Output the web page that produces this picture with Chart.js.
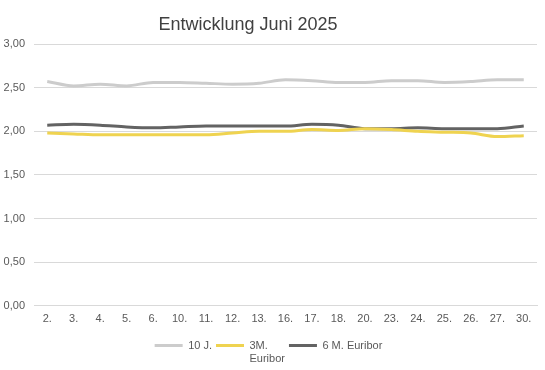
<!DOCTYPE html>
<html>
<head>
<meta charset="utf-8">
<script src="https://cdn.jsdelivr.net/npm/chart.js@4/dist/chart.umd.min.js"></script>
<style>
  html, body { margin: 0; padding: 0; background: #fff; }
  #wrap { width: 545px; height: 370px; }
</style>
</head>
<body>
<div id="wrap"><canvas id="rateChart" width="545" height="370"></canvas></div>
<script>
// Tage im Juni 2025
const days = ["2.", "3.", "4.", "5.", "6.", "10.", "11.", "12.", "13.", "16.", "17.", "18.", "20.", "23.", "24.", "25.", "26.", "27.", "30."];

// Zinssätze in %
const tenYears = [2.57, 2.52, 2.54, 2.52, 2.56, 2.56, 2.55, 2.54, 2.55, 2.59, 2.58, 2.56, 2.56, 2.58, 2.58, 2.56, 2.57, 2.59, 2.59];
const euribor3M = [1.98, 1.97, 1.96, 1.96, 1.96, 1.96, 1.96, 1.98, 2.00, 2.00, 2.02, 2.01, 2.03, 2.02, 2.00, 1.99, 1.98, 1.94, 1.95];
const euribor6M = [2.07, 2.08, 2.07, 2.05, 2.04, 2.05, 2.06, 2.06, 2.06, 2.06, 2.08, 2.07, 2.03, 2.03, 2.04, 2.03, 2.03, 2.03, 2.06];

const seriesNames = ["10 J.", ["3M.", "Euribor"], "6 M. Euribor"];
const yTicks = [0, 0.5, 1, 1.5, 2, 2.5, 3];

const textGray = "#595959";
const fontFamily = "'Liberation Sans', Arial, sans-serif";

// title drawn above the plot (Excel puts it a bit left of center)
const titlePlugin = {
  id: "excelTitle",
  afterDraw(chart) {
    const c = chart.ctx;
    c.save();
    c.font = "18px " + fontFamily;
    c.fillStyle = "#404040";
    c.textAlign = "center";
    c.textBaseline = "middle";
    c.fillText("Entwicklung Juni 2025", 248, 25);
    c.restore();
  }
};

// legend box gets room for the wrapped 2nd line ("Euribor"), otherwise it is clipped
const legendRoom = {
  id: "legendRoom",
  beforeLayout(chart) {
    const lg = chart.legend;
    if (!lg || lg._patched) return;
    const fit = lg.fit;
    lg.fit = function () {
      fit.call(this);
      this.height += 9;
    };
    lg._patched = true;
  }
};

// legend text may be 2 lines; measure it by its widest line
function legendText(label) {
  if (!Array.isArray(label)) return label;
  const lines = label.slice();
  const widest = lines.reduce((a, b) => (b.length > a.length ? b : a));
  lines.toString = () => widest;
  return lines;
}

const ctx = document.getElementById("rateChart");

new Chart(ctx, {
  type: "line",
  data: {
    labels: days,
    datasets: [
      { label: seriesNames[0], data: tenYears, borderColor: "#cccccc", backgroundColor: "#cccccc" },
      { label: seriesNames[1], data: euribor3M, borderColor: "#efd350", backgroundColor: "#efd350" },
      { label: seriesNames[2], data: euribor6M, borderColor: "#636363", backgroundColor: "#636363" }
    ]
  },
  options: {
    responsive: false,
    animation: false,
    layout: { padding: { top: 44, right: 8, left: 0, bottom: 0 } },
    elements: {
      line: { borderWidth: 3, tension: 0.35, cubicInterpolationMode: "monotone" },
      point: { radius: 0 }
    },
    scales: {
      x: {
        offset: true,
        grid: { display: false, drawTicks: false },
        border: { color: "#d9d9d9" },
        afterFit(scale) { scale.height += 3; },
        ticks: { color: textGray, font: { family: fontFamily, size: 11 }, padding: 7, maxRotation: 0, autoSkip: false }
      },
      y: {
        min: 0,
        max: 3,
        afterBuildTicks(scale) { scale.ticks = yTicks.map(v => ({ value: v })); },
        afterFit(scale) { scale.width = 34; },
        grid: { color: "#d9d9d9", drawTicks: false },
        border: { display: false },
        ticks: {
          color: textGray,
          font: { family: fontFamily, size: 11 },
          padding: 9,
          callback: v => v.toFixed(2).replace(".", ",")
        }
      }
    },
    plugins: {
      legend: {
        position: "bottom",
        labels: {
          color: textGray,
          font: { family: fontFamily, size: 11 },
          boxWidth: 28,
          boxHeight: 3,
          padding: 4,
          generateLabels(chart) {
            return chart.data.datasets.map((ds, i) => ({
              text: legendText(ds.label),
              fillStyle: ds.borderColor,
              strokeStyle: ds.borderColor,
              lineWidth: 0,
              fontColor: textGray,
              datasetIndex: i
            }));
          }
        }
      },
      tooltip: { enabled: false }
    }
  },
  plugins: [titlePlugin, legendRoom]
});
</script>
</body>
</html>
